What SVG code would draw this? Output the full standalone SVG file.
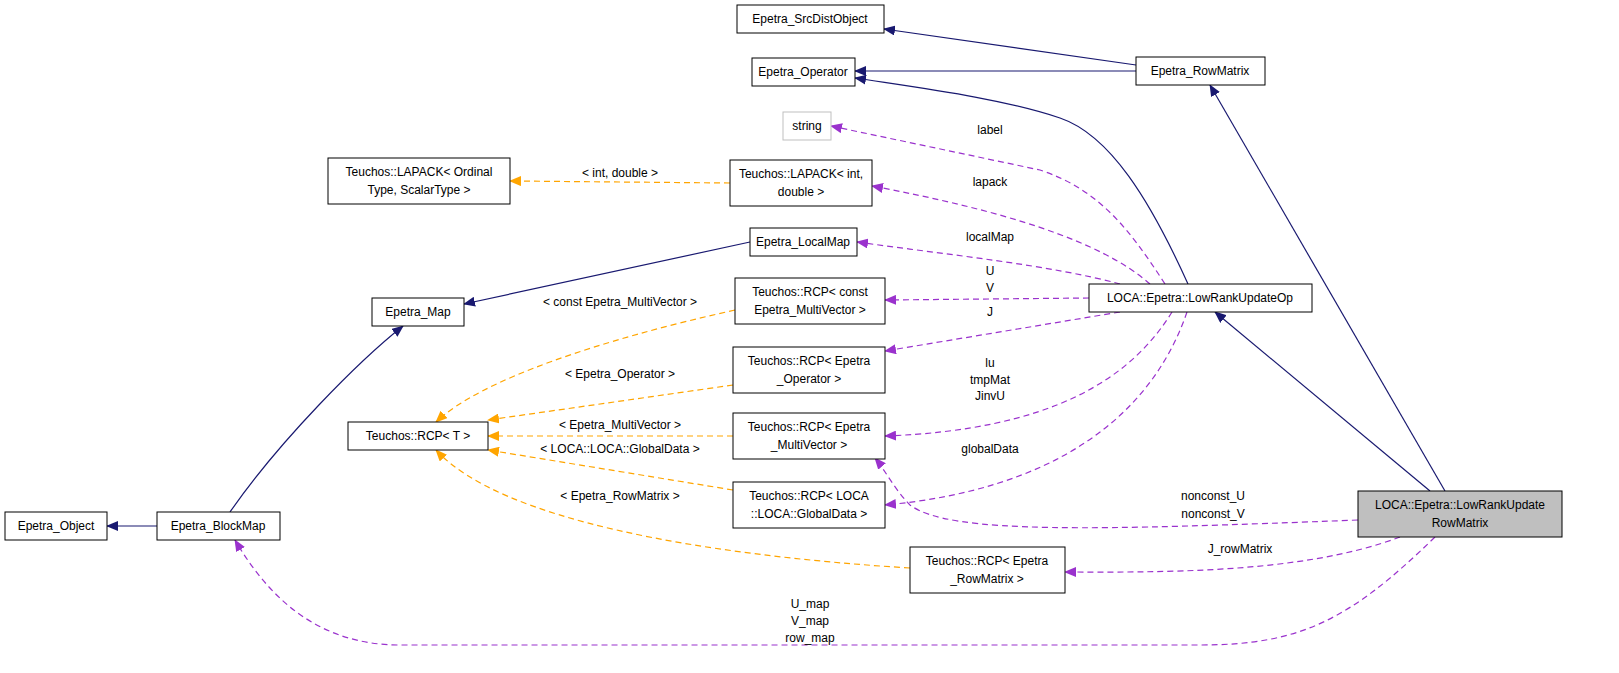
<svg xmlns="http://www.w3.org/2000/svg" width="1619" height="673" viewBox="0 0 1619 673">
<defs>
<marker id="an" markerWidth="12" markerHeight="10" refX="11" refY="5" orient="auto" markerUnits="userSpaceOnUse"><path d="M0,0 L12,5 L0,10 z" fill="#191970"/></marker>
<marker id="ao" markerWidth="12" markerHeight="10" refX="11" refY="5" orient="auto" markerUnits="userSpaceOnUse"><path d="M0,0 L12,5 L0,10 z" fill="#ffa500"/></marker>
<marker id="ap" markerWidth="12" markerHeight="10" refX="11" refY="5" orient="auto" markerUnits="userSpaceOnUse"><path d="M0,0 L12,5 L0,10 z" fill="#9a32cd"/></marker>
</defs>
<style>
rect{fill:#fff;stroke:#000;stroke-width:1}
text{font-family:"Liberation Sans",Arial,sans-serif;font-size:12px;text-anchor:middle;fill:#000}
.n{fill:none;stroke:#191970;stroke-width:1.2;marker-end:url(#an)}
.o{fill:none;stroke:#ffa500;stroke-width:1.2;stroke-dasharray:6,4;marker-end:url(#ao)}
.p{fill:none;stroke:#9a32cd;stroke-width:1.2;stroke-dasharray:6,4;marker-end:url(#ap)}
</style>
<rect x="0" y="0" width="1619" height="673" style="fill:#fff;stroke:none"/>
<g id="connectors">
<path class="n" d="M1136,65 L884,29"/>
<path class="n" d="M1136,71 L855,71"/>
<path class="n" d="M1188,284 C1150,200 1110,135 1060,118 C1000,98 920,88 855,78"/>
<path class="n" d="M1445,491 L1210,85"/>
<path class="n" d="M1430,491 L1215,312"/>
<path class="n" d="M750,242 L464,304"/>
<path class="n" d="M230,512 C280,440 360,360 403,326"/>
<path class="n" d="M157,526 L107,526"/>
<path class="o" d="M730,183 L510,181"/>
<text x="620" y="177">&lt; int, double &gt;</text>
<path class="o" d="M735,310 C600,340 480,380 436,422"/>
<text x="620" y="306">&lt; const Epetra_MultiVector &gt;</text>
<path class="o" d="M733,385 L488,420"/>
<text x="620" y="378">&lt; Epetra_Operator &gt;</text>
<path class="o" d="M733,436 L488,436"/>
<text x="620" y="429">&lt; Epetra_MultiVector &gt;</text>
<path class="o" d="M733,490 L488,450"/>
<text x="620" y="453">&lt; LOCA::LOCA::GlobalData &gt;</text>
<path class="o" d="M910,568 C700,555 500,520 436,450"/>
<text x="620" y="500">&lt; Epetra_RowMatrix &gt;</text>
<path class="p" d="M1165,284 C1130,230 1100,190 1040,170 L831,126"/>
<text x="990" y="134">label</text>
<path class="p" d="M1150,284 C1100,240 1000,210 872,186"/>
<text x="990" y="186">lapack</text>
<path class="p" d="M1120,284 C1050,265 950,255 857,242"/>
<text x="990" y="241">localMap</text>
<path class="p" d="M1089,298 L885,300"/>
<text x="990" y="275">U</text><text x="990" y="292">V</text>
<path class="p" d="M1120,312 L885,351"/>
<text x="990" y="316">J</text>
<path class="p" d="M1172,312 C1130,380 1050,430 885,436"/>
<text x="990" y="367">lu</text><text x="990" y="384">tmpMat</text><text x="990" y="400">JinvU</text>
<path class="p" d="M1187,312 C1150,420 1050,490 885,505"/>
<text x="990" y="453">globalData</text>
<path class="p" d="M1358,520 C1100,530 950,535 910,505 C895,490 885,470 875,458"/>
<text x="1213" y="500">nonconst_U</text><text x="1213" y="518">nonconst_V</text>
<path class="p" d="M1400,537 C1300,575 1150,572 1065,572"/>
<text x="1240" y="553">J_rowMatrix</text>
<path class="p" d="M1435,537 C1350,620 1300,645 1200,645 L400,645 C320,645 270,600 235,540"/>
<text x="810" y="608">U_map</text><text x="810" y="625">V_map</text><text x="810" y="642">row_map</text>
</g>
<g id="n1"><rect x="737" y="5" width="147" height="28"/><text x="810" y="23">Epetra_SrcDistObject</text></g>
<g id="n2"><rect x="752" y="58" width="103" height="28"/><text x="803" y="76">Epetra_Operator</text></g>
<g id="n3"><rect x="1136" y="57" width="129" height="28"/><text x="1200" y="75">Epetra_RowMatrix</text></g>
<g id="n4"><rect x="783" y="112" width="48" height="28" style="stroke:#bfbfbf"/><text x="807" y="130">string</text></g>
<g id="n5"><rect x="328" y="158" width="182" height="46"/><text x="419" y="176">Teuchos::LAPACK&lt; Ordinal</text><text x="419" y="194">Type, ScalarType &gt;</text></g>
<g id="n6"><rect x="730" y="160" width="142" height="46"/><text x="801" y="178">Teuchos::LAPACK&lt; int,</text><text x="801" y="196">double &gt;</text></g>
<g id="n7"><rect x="750" y="228" width="107" height="28"/><text x="803" y="246">Epetra_LocalMap</text></g>
<g id="n8"><rect x="372" y="298" width="92" height="28"/><text x="418" y="316">Epetra_Map</text></g>
<g id="n9"><rect x="735" y="278" width="150" height="46"/><text x="810" y="296">Teuchos::RCP&lt; const</text><text x="810" y="314">Epetra_MultiVector &gt;</text></g>
<g id="n10"><rect x="1089" y="284" width="223" height="28"/><text x="1200" y="302">LOCA::Epetra::LowRankUpdateOp</text></g>
<g id="n11"><rect x="733" y="347" width="152" height="46"/><text x="809" y="365">Teuchos::RCP&lt; Epetra</text><text x="809" y="383">_Operator &gt;</text></g>
<g id="n12"><rect x="348" y="422" width="140" height="28"/><text x="418" y="440">Teuchos::RCP&lt; T &gt;</text></g>
<g id="n13"><rect x="733" y="413" width="152" height="46"/><text x="809" y="431">Teuchos::RCP&lt; Epetra</text><text x="809" y="449">_MultiVector &gt;</text></g>
<g id="n14"><rect x="733" y="482" width="152" height="46"/><text x="809" y="500">Teuchos::RCP&lt; LOCA</text><text x="809" y="518">::LOCA::GlobalData &gt;</text></g>
<g id="n15"><rect x="1358" y="491" width="204" height="46" style="fill:#bfbfbf"/><text x="1460" y="509">LOCA::Epetra::LowRankUpdate</text><text x="1460" y="527">RowMatrix</text></g>
<g id="n16"><rect x="910" y="547" width="155" height="46"/><text x="987" y="565">Teuchos::RCP&lt; Epetra</text><text x="987" y="583">_RowMatrix &gt;</text></g>
<g id="n17"><rect x="5" y="512" width="102" height="28"/><text x="56" y="530">Epetra_Object</text></g>
<g id="n18"><rect x="157" y="512" width="123" height="28"/><text x="218" y="530">Epetra_BlockMap</text></g>
</svg>
